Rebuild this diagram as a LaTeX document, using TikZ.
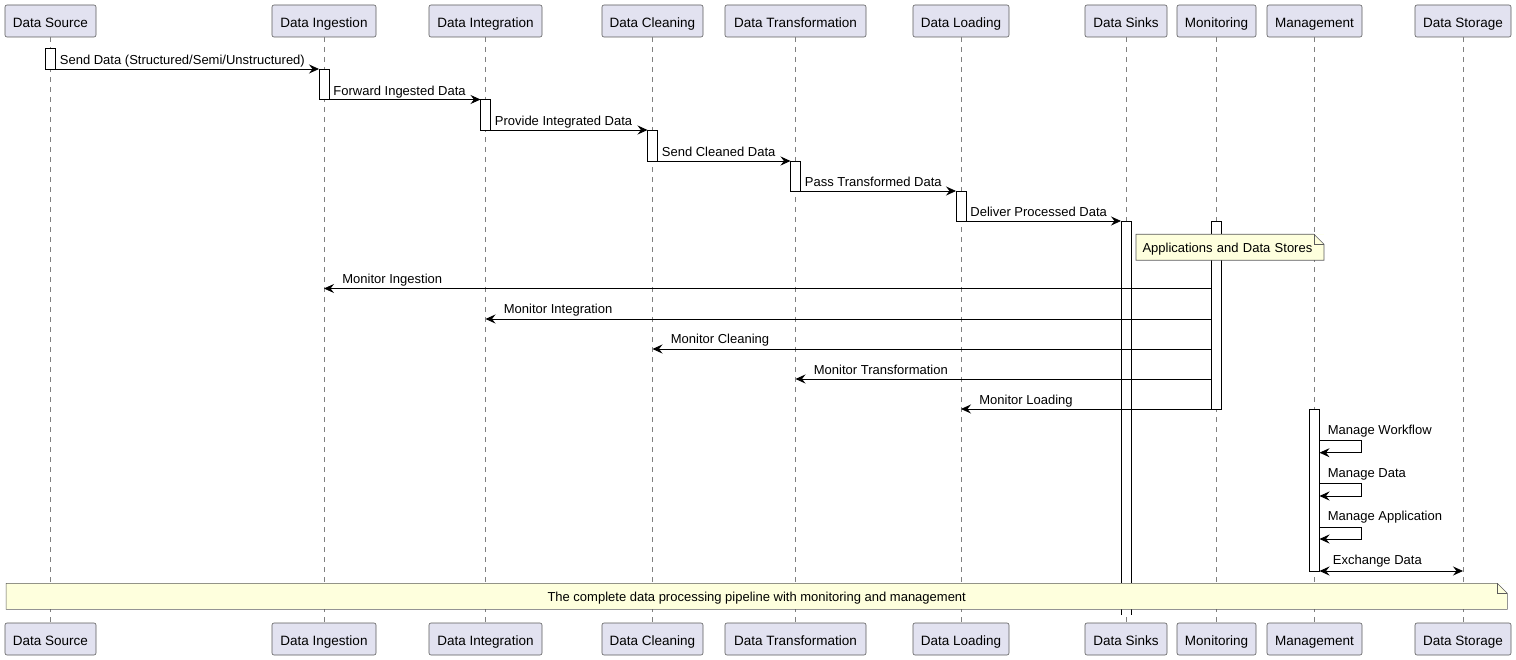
\documentclass[tikz,border=0pt]{standalone}
\usepackage{fontspec}
\setmainfont{Liberation Sans}
\usetikzlibrary{arrows.meta}
\definecolor{partfill}{HTML}{E2E2F0}
\definecolor{partline}{HTML}{5B5B5B}
\definecolor{notefill}{HTML}{FEFFDD}
\definecolor{lifegray}{HTML}{808080}

\begin{document}
\begin{tikzpicture}[x=1pt,y=-1pt,
    msg/.style={draw=black, line width=0.8pt, -{Stealth[length=10pt,width=9pt,inset=3.5pt]}},
    lbl/.style={inner sep=0pt, font=\fontsize{13}{15}\selectfont},
    bar/.style={draw=black, fill=white, line width=0.8pt, minimum width=10pt, inner sep=0pt, outer sep=0pt, anchor=north}]

      \useasboundingbox (0,0) rectangle (1516,660);

      % participants, top and bottom
      \begin{scope}[every node/.style={draw=partline, fill=partfill, line width=0.6pt, rounded corners=2pt,
          minimum height=32pt, inner sep=0pt, outer sep=0pt, text height=13.5pt, text depth=0pt,
          font=\fontsize{13.5}{15}\selectfont}]
        \node[minimum width=91pt]  (1)  at (50.5,21)  {Data Source};
        \node[minimum width=104pt] (2)  at (324,21)   {Data Ingestion};
        \node[minimum width=113pt] (3)  at (485.5,21) {Data Integration};
        \node[minimum width=101pt] (4)  at (652.5,21) {Data Cleaning};
        \node[minimum width=141pt] (5)  at (795.5,21) {Data Transformation};
        \node[minimum width=96pt]  (6)  at (961,21)   {Data Loading};
        \node[minimum width=82pt]  (7)  at (1126,21)  {Data Sinks};
        \node[minimum width=79pt]  (8)  at (1216.5,21) {Monitoring};
        \node[minimum width=95pt]  (9)  at (1314.5,21) {Management};
        \node[minimum width=96pt]  (10) at (1463,21)  {Data Storage};

        \node[minimum width=91pt]  (1b)  at (50.5,639)  {Data Source};
        \node[minimum width=104pt] (2b)  at (324,639)   {Data Ingestion};
        \node[minimum width=113pt] (3b)  at (485.5,639) {Data Integration};
        \node[minimum width=101pt] (4b)  at (652.5,639) {Data Cleaning};
        \node[minimum width=141pt] (5b)  at (795.5,639) {Data Transformation};
        \node[minimum width=96pt]  (6b)  at (961,639)   {Data Loading};
        \node[minimum width=82pt]  (7b)  at (1126,639)  {Data Sinks};
        \node[minimum width=79pt]  (8b)  at (1216.5,639) {Monitoring};
        \node[minimum width=95pt]  (9b)  at (1314.5,639) {Management};
        \node[minimum width=96pt]  (10b) at (1463,639)  {Data Storage};
      \end{scope}

      % lifelines
      \begin{scope}[draw=lifegray, line width=0.6pt, dash pattern=on 5pt off 5pt]
        \draw (1) -- (1b);
        \draw (2) -- (2b);
        \draw (3) -- (3b);
        \draw (4) -- (4b);
        \draw (5) -- (5b);
        \draw (6) -- (6b);
        \draw (7) -- (7b);
        \draw (8) -- (8b);
        \draw (9) -- (9b);
        \draw (10) -- (10b);
      \end{scope}

      % activations
      \node[bar, minimum height=21pt]  (a1) at (50.5,48)   {};
      \node[bar, minimum height=30.5pt] (a2) at (324,69)   {};
      \node[bar, minimum height=30.5pt] (a3) at (485.5,99.5) {};
      \node[bar, minimum height=31pt]  (a4) at (652.5,130) {};
      \node[bar, minimum height=30pt]  (a5) at (795.5,161) {};
      \node[bar, minimum height=30pt]  (a6) at (961,191)   {};
      \node[bar, draw=none, minimum height=394pt] (a7) at (1126,221)  {};
      \draw[line width=0.8pt] (a7.south west) -- (a7.north west) -- (a7.north east) -- (a7.south east);
      \node[bar, minimum height=188pt] (a8) at (1216.5,221) {};
      \node[bar, minimum height=162pt] (a9) at (1314.5,409) {};

      % pipeline messages
      \begin{scope}[every node/.style={lbl, pos=0, anchor=base west, xshift=4pt, yshift=4pt}]
        \draw[msg] (a1.south east) -- (a2.north west) node {Send Data (Structured/Semi/Unstructured)};
        \draw[msg] (a2.south east) -- (a3.north west) node {Forward Ingested Data};
        \draw[msg] (a3.south east) -- (a4.north west) node {Provide Integrated Data};
        \draw[msg] (a4.south east) -- (a5.north west) node {Send Cleaned Data};
        \draw[msg] (a5.south east) -- (a6.north west) node {Pass Transformed Data};
        \draw[msg] (a6.south east) -- (a7.north west) node {Deliver Processed Data};
      \end{scope}

      % monitoring
      \coordinate (t2) at (324,288.5);
      \coordinate (t3) at (485.5,319);
      \coordinate (t4) at (652.5,349);
      \coordinate (t5) at (795.5,379);
      \coordinate (t6) at (961,409);
      \begin{scope}[every node/.style={lbl, pos=1, anchor=base west, xshift=18pt, yshift=5pt}]
        \draw[msg] (a8.west |- t2) -- (t2) node {Monitor Ingestion};
        \draw[msg] (a8.west |- t3) -- (t3) node {Monitor Integration};
        \draw[msg] (a8.west |- t4) -- (t4) node {Monitor Cleaning};
        \draw[msg] (a8.west |- t5) -- (t5) node {Monitor Transformation};
        \draw[msg] (a8.south west) -- (t6) node {Monitor Loading};
      \end{scope}

      % management
      \coordinate (s1) at (1361.7,440.7);
      \coordinate (s1r) at (1361.7,452.7);
      \coordinate (s2) at (1361.7,483.7);
      \coordinate (s2r) at (1361.7,496);
      \coordinate (s3) at (1361.7,527);
      \coordinate (s3r) at (1361.7,539);
      \coordinate (x1) at (1463,571);
      \begin{scope}[every node/.style={lbl, pos=0, anchor=base west, xshift=8pt, yshift=6.5pt}]
        \draw[msg] (a9.east |- s1) -- node {Manage Workflow} (s1) -- (s1r) -- (a9.east |- s1r);
        \draw[msg] (a9.east |- s2) -- node {Manage Data} (s2) -- (s2r) -- (a9.east |- s2r);
        \draw[msg] (a9.east |- s3) -- node {Manage Application} (s3) -- (s3r) -- (a9.east |- s3r);
        \draw[msg, {Stealth[length=10pt,width=9pt,inset=3.5pt]}-{Stealth[length=10pt,width=9pt,inset=3.5pt]}]
          (a9.south east) -- node[xshift=5pt] {Exchange Data} (x1);
      \end{scope}

      % notes
      \begin{scope}[every node/.style={lbl, fill=notefill, minimum height=26pt, outer sep=0pt,
          text height=11pt, text depth=0pt}]
        \node[anchor=north west, text width=175pt, inner xsep=6.5pt, align=left] (n1) at (1136,234.3) {Applications and Data Stores};
        \node[minimum width=1501.3pt] (n2) at (756.7,596.3) {The complete data processing pipeline with monitoring and management};
      \end{scope}
      \foreach \n in {n1,n2} {
        \fill[white] ([xshift=-10pt]\n.north east) -- (\n.north east) -- ([yshift=-10pt]\n.north east) -- cycle;
        \draw[partline, line width=0.6pt] (\n.south west) -- (\n.north west) -- ([xshift=-10pt]\n.north east)
          -- ([yshift=-10pt]\n.north east) -- (\n.south east) -- cycle;
        \draw[partline, line width=0.6pt] ([xshift=-10pt]\n.north east) -- ([xshift=-10pt,yshift=-10pt]\n.north east)
          -- ([yshift=-10pt]\n.north east);
      }

    \end{tikzpicture}
\end{document}
